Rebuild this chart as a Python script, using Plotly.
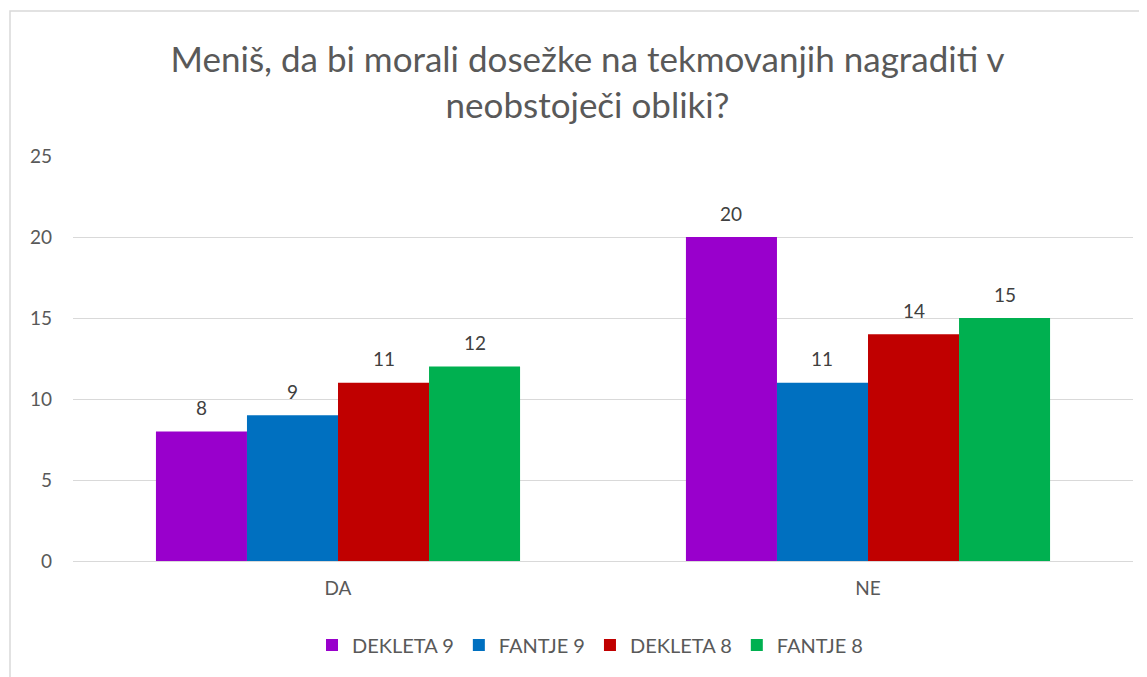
import plotly.graph_objects as go

categories = ["DA", "NE"]
series_names = ["DEKLETA 9", "FANTJE 9", "DEKLETA 8", "FANTJE 8"]
dekleta9 = [8, 20]
fantje9 = [9, 11]
dekleta8 = [11, 14]
fantje8 = [12, 15]
colors = ["#9900CC", "#0070C0", "#C00000", "#00B050"]
y_ticks = [0, 5, 10, 15, 20, 25]
title_text = "Meniš, da bi morali dosežke na tekmovanjih nagraditi v<br>neobstoječi obliki?"

FONT = "Lato, 'Open Sans', sans-serif"
BARGAP = 0.313

# figure is placed at an 8px page offset: work in figure pixels
W, H = 1139, 669
L, R, T, B = 65, 14, 148, 116
plot_w = W - L - R
plot_h = H - T - B

all_series = [dekleta9, fantje9, dekleta8, fantje8]
n = len(all_series)

fig = go.Figure()
annotations = []
bar_w = (1 - BARGAP) / n
for j, (name, vals, col) in enumerate(zip(series_names, all_series, colors)):
    fig.add_trace(go.Bar(
        x=categories, y=vals, name=name,
        marker=dict(color=col, line=dict(width=0)),
    ))
    for i, v in enumerate(vals):
        annotations.append(dict(
            x=i + (j - (n - 1) / 2) * bar_w, y=v, xref="x", yref="y",
            text=str(v), showarrow=False, yanchor="middle", yshift=24,
            font=dict(size=19, color="#404040", family=FONT),
        ))

fig.update_layout(
    width=W, height=H,
    paper_bgcolor="white", plot_bgcolor="white",
    margin=dict(l=L, r=R, t=T, b=B),
    barmode="group", bargap=BARGAP, bargroupgap=0,
    font=dict(family=FONT, color="#595959", size=19),
    title=dict(text=title_text, x=579.5 / W, xref="container", xanchor="center",
               y=1 - 64 / H, yanchor="middle",
               font=dict(size=35, color="#595959", family=FONT)),
    xaxis=dict(showgrid=False, showline=False, ticks="", tickfont=dict(size=19, color="#595959"),
               ticklabelstandoff=14),
    yaxis=dict(range=[0, 25], tickvals=y_ticks, showgrid=True, gridcolor="#D9D9D9", gridwidth=1,
               zeroline=True, zerolinecolor="#D9D9D9", zerolinewidth=1,
               tickfont=dict(size=19, color="#595959"), ticklabelstandoff=20, showline=False),
    legend=dict(orientation="h", x=(582 - L) / plot_w, xanchor="center", y=(553 - 637) / plot_h,
                yanchor="middle", font=dict(size=20, color="#595959"), itemwidth=30,
                traceorder="normal"),
    annotations=annotations,
    shapes=[dict(type="rect", xref="paper", yref="paper",
                 x0=(2 - L) / plot_w, x1=1.2, y0=-0.5, y1=(553 - 3) / plot_h,
                 line=dict(color="#D9D9D9", width=1.5), fillcolor="rgba(0,0,0,0)", layer="below")],
)

fig.write_html("out.html")
